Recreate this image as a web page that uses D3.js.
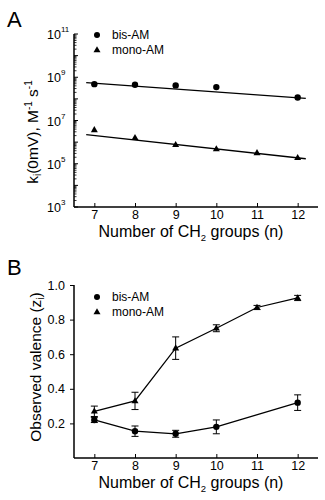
<!DOCTYPE html>
<html><head><meta charset="utf-8">
<script src="https://cdn.jsdelivr.net/npm/d3@7"></script>
<style>body{margin:0;background:#fff}svg{display:block}text{font-family:"Liberation Sans",Arial,sans-serif;fill:#000}</style>
</head><body><svg id="c" width="325" height="500"></svg>
<script>
const xTicks = [7, 8, 9, 10, 11, 12];
const yTicksA = [1e3, 1e5, 1e7, 1e9, 1e11];
const yTicksB = [0.2, 0.4, 0.6, 0.8, 1.0];
const seriesNames = ["bis-AM", "mono-AM"];
// Panel A
const bisN = [7, 8, 9, 10, 12];
const bisK = [4.8e8, 4.5e8, 4.2e8, 3.5e8, 1.15e8];
const monoN = [7, 8, 9, 10, 11, 12];
const monoK = [3.7e6, 1.6e6, 7.6e5, 4.8e5, 3.2e5, 1.9e5];
const bisFitN = [6.8, 12.2];
const bisFitK = [5.6e8, 1.05e8];
const monoFitN = [6.8, 12.2];
const monoFitK = [2.2e6, 1.7e5];
// Panel B
const bisZ = [0.22, 0.155, 0.14, 0.18, 0.32];
const bisZErr = [0.015, 0.03, 0.02, 0.04, 0.045];
const monoZ = [0.27, 0.33, 0.635, 0.75, 0.87, 0.925];
const monoZErr = [0.03, 0.05, 0.065, 0.02, 0.012, 0.015];

const svg = d3.select("#c");
const L = 74, R = 318;
const x = d3.scaleLinear().domain([6.5, 12.5]).range([L, R]);

function tri(g, cx, cy, s) {
  const h = s * 0.87;
  g.append("path").attr("d", `M${cx},${cy - h * 0.62}L${cx + s / 2},${cy + h * 0.38}L${cx - s / 2},${cy + h * 0.38}Z`).attr("fill", "#000");
}
function dot(g, cx, cy, r) { g.append("circle").attr("cx", cx).attr("cy", cy).attr("r", r).attr("fill", "#000"); }

function xAxis(g, y0) {
  g.append("line").attr("x1", L).attr("x2", R).attr("y1", y0).attr("y2", y0).attr("stroke", "#000").attr("stroke-width", 1.5);
  const ax = g.append("g").attr("transform", `translate(0,${y0})`).call(d3.axisBottom(x).tickValues(xTicks).tickFormat(d3.format("d")).tickSizeInner(-4).tickSizeOuter(0).tickPadding(3));
  ax.select(".domain").remove();
  ax.selectAll("text").attr("font-size", 12.5).attr("font-family", "Liberation Sans");
  const t = g.append("text").attr("x", 191).attr("y", y0 + 30).attr("text-anchor", "middle").attr("font-size", 16);
  t.append("tspan").text("Number of CH");
  t.append("tspan").attr("font-size", 9.5).attr("dy", 4).text("2");
  t.append("tspan").attr("dy", -4).text(" groups (n)");
}

function legend(g, y0) {
  dot(g, 97, y0, 3);
  g.append("text").attr("x", 112).attr("y", y0 + 4).attr("font-size", 12).text(seriesNames[0]);
  tri(g, 97, y0 + 15, 7);
  g.append("text").attr("x", 112).attr("y", y0 + 19).attr("font-size", 12).text(seriesNames[1]);
}

// ---------- Panel A ----------
const gA = svg.append("g");
const yA = d3.scaleLog().domain([1e3, 1e11]).range([207, 34]);
gA.append("text").attr("x", 7).attr("y", 27).attr("font-size", 22).text("A");
gA.append("line").attr("x1", L).attr("x2", L).attr("y1", 34).attr("y2", 207).attr("stroke", "#000").attr("stroke-width", 1.5);
for (let e = 3; e < 11; e++) {
  for (let m = 2; m <= 9; m++) {
    const v = m * Math.pow(10, e);
    gA.append("line").attr("x1", L).attr("x2", L + 2.5).attr("y1", yA(v)).attr("y2", yA(v)).attr("stroke", "#000").attr("stroke-width", 0.8);
  }
}
for (let e = 3; e <= 11; e++) {
  gA.append("line").attr("x1", L).attr("x2", L + 4).attr("y1", yA(Math.pow(10, e))).attr("y2", yA(Math.pow(10, e))).attr("stroke", "#000").attr("stroke-width", 1);
}
yTicksA.forEach(v => {
  gA.append("text").attr("x", 61).attr("y", yA(v) + 5).attr("text-anchor", "end").attr("font-size", 12.5).text("10");
  gA.append("text").attr("x", 61).attr("y", yA(v) - 2).attr("font-size", 8).text(Math.round(Math.log10(v)));
});
xAxis(gA, 207);
{
  const t = gA.append("text").attr("transform", "translate(38,132) rotate(-90)").attr("text-anchor", "middle").attr("font-size", 15.5);
  t.append("tspan").text("k");
  t.append("tspan").attr("font-size", 10).attr("dy", 3).text("i");
  t.append("tspan").attr("dy", -3).text("(0mV), M");
  t.append("tspan").attr("font-size", 10).attr("dy", -6).text("-1");
  t.append("tspan").attr("dy", 6).text(" s");
  t.append("tspan").attr("font-size", 10).attr("dy", -6).text("-1");
}
const lineA = d3.line().x(d => x(d[0])).y(d => yA(d[1]));
gA.append("path").attr("d", lineA(d3.zip(bisFitN, bisFitK))).attr("stroke", "#000").attr("stroke-width", 1.3).attr("fill", "none");
gA.append("path").attr("d", lineA(d3.zip(monoFitN, monoFitK))).attr("stroke", "#000").attr("stroke-width", 1.3).attr("fill", "none");
bisN.forEach((n, i) => dot(gA, x(n), yA(bisK[i]), 3.2));
monoN.forEach((n, i) => tri(gA, x(n), yA(monoK[i]), 7));
legend(gA, 35);

// ---------- Panel B ----------
const gB = svg.append("g");
const yB = d3.scaleLinear().domain([0, 1]).range([458, 285]);
gB.append("text").attr("x", 7).attr("y", 275).attr("font-size", 22).text("B");
gB.append("line").attr("x1", L).attr("x2", L).attr("y1", 285).attr("y2", 458).attr("stroke", "#000").attr("stroke-width", 1.5);
const ayB = gB.append("g").attr("transform", `translate(${L},0)`).call(d3.axisLeft(yB).tickValues(yTicksB).tickFormat(d3.format(".1f")).tickSizeInner(4).tickSizeOuter(0).tickPadding(5));
ayB.select(".domain").remove();
ayB.selectAll("text").attr("font-size", 12.5).attr("font-family", "Liberation Sans");
xAxis(gB, 458);
{
  const t = gB.append("text").attr("transform", "translate(41,367) rotate(-90)").attr("text-anchor", "middle").attr("font-size", 15.5);
  t.append("tspan").text("Observed valence (z");
  t.append("tspan").attr("font-size", 10).attr("dy", 3).text("i");
  t.append("tspan").attr("dy", -3).text(")");
}
const lineB = d3.line().x(d => x(d[0])).y(d => yB(d[1]));
function errs(g, ns, vs, es) {
  ns.forEach((n, i) => {
    const cx = x(n), y1 = yB(vs[i] - es[i]), y2 = yB(vs[i] + es[i]);
    g.append("line").attr("x1", cx).attr("x2", cx).attr("y1", y1).attr("y2", y2).attr("stroke", "#000").attr("stroke-width", 1);
    [y1, y2].forEach(yy => g.append("line").attr("x1", cx - 3.5).attr("x2", cx + 3.5).attr("y1", yy).attr("y2", yy).attr("stroke", "#000").attr("stroke-width", 1));
  });
}
gB.append("path").attr("d", lineB(d3.zip(monoN, monoZ))).attr("stroke", "#000").attr("stroke-width", 1.3).attr("fill", "none");
gB.append("path").attr("d", lineB(d3.zip(bisN, bisZ))).attr("stroke", "#000").attr("stroke-width", 1.3).attr("fill", "none");
errs(gB, monoN, monoZ, monoZErr);
errs(gB, bisN, bisZ, bisZErr);
bisN.forEach((n, i) => dot(gB, x(n), yB(bisZ[i]), 3.2));
monoN.forEach((n, i) => tri(gB, x(n), yB(monoZ[i]), 7));
legend(gB, 297);
</script></body></html>
